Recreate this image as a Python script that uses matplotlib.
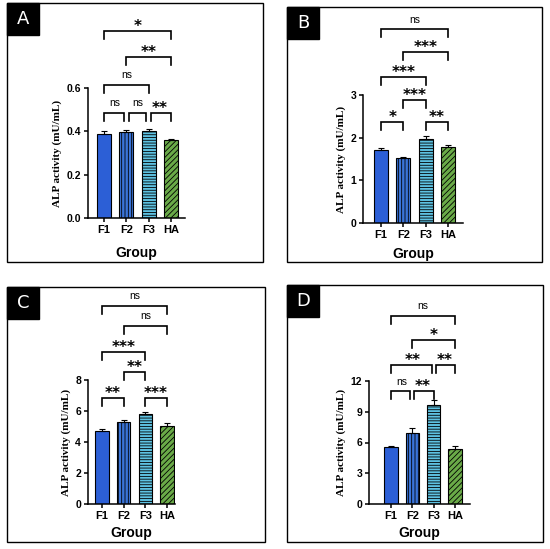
import numpy as np
import matplotlib
matplotlib.use('Agg')
import matplotlib.pyplot as plt
from matplotlib.patches import Rectangle

# ===========================================================
# data
# ===========================================================
groups = ['F1', 'F2', 'F3', 'HA']

a_mean = [0.390, 0.395, 0.400, 0.358]
a_err = [0.010, 0.010, 0.012, 0.008]
b_mean = [1.70, 1.53, 1.98, 1.79]
b_err = [0.06, 0.02, 0.07, 0.03]
c_mean = [4.72, 5.30, 5.82, 5.05]
c_err = [0.12, 0.12, 0.10, 0.20]
d_mean = [5.60, 6.90, 9.70, 5.40]
d_err = [0.05, 0.50, 0.45, 0.25]

# (group i, group j, bracket height, label)
a_comp = [(0, 1, 0.485, 'ns'), (1, 2, 0.485, 'ns'), (2, 3, 0.485, '**'),
          (0, 2, 0.614, 'ns'), (1, 3, 0.743, '**'), (0, 3, 0.863, '*')]
b_comp = [(0, 1, 2.37, '*'), (2, 3, 2.37, '**'), (1, 2, 2.88, '***'),
          (0, 2, 3.42, '***'), (1, 3, 4.00, '***'), (0, 3, 4.54, 'ns')]
c_comp = [(0, 1, 6.84, '**'), (2, 3, 6.84, '***'), (1, 2, 8.52, '**'),
          (0, 2, 9.80, '***'), (1, 3, 11.50, 'ns'), (0, 3, 12.77, 'ns')]
d_comp = [(0, 1, 11.0, 'ns'), (1, 2, 11.0, '**'), (0, 2, 13.56, '**'),
          (2, 3, 13.56, '**'), (1, 3, 16.0, '*'), (0, 3, 18.34, 'ns')]

a_ticks = [0.0, 0.2, 0.4, 0.6]
b_ticks = [0, 1, 2, 3]
c_ticks = [0, 2, 4, 6, 8]
d_ticks = [0, 3, 6, 9, 12]

# ===========================================================
# style
# ===========================================================
W, H = 550, 549
BAR_COLORS = ['#2C5FD6', '#3A74D8', '#5EC2E2', '#6AAA48']
HATCHES = [None, '|||||', '------', '//////']
SANS = 'Liberation Sans'
SERIF = 'Liberation Serif'
plt.rcParams['hatch.linewidth'] = 0.6
plt.rcParams['font.family'] = SANS

# panel layout in pixels: frame, axes (l, t, r, b), xlim
panels = [
    dict(letter='A', mean=a_mean, err=a_err, comp=a_comp, ticks=a_ticks, fmt='{:.1f}',
         frame=(7, 3, 263, 262), ax=(88, 88, 185, 218), xlim=(-0.72, 3.63), lpad=8),
    dict(letter='B', mean=b_mean, err=b_err, comp=b_comp, ticks=b_ticks, fmt='{:.0f}',
         frame=(287, 7, 542, 262), ax=(363, 95, 463, 223), xlim=(-0.81, 3.67), lpad=5),
    dict(letter='C', mean=c_mean, err=c_err, comp=c_comp, ticks=c_ticks, fmt='{:.0f}',
         frame=(7, 287, 265, 542), ax=(88, 380, 175, 504), xlim=(-0.65, 3.37), lpad=4),
    dict(letter='D', mean=d_mean, err=d_err, comp=d_comp, ticks=d_ticks, fmt='{:.0f}',
         frame=(287, 285, 543, 542), ax=(369, 381, 470, 504), xlim=(-1.03, 3.70), lpad=4),
]

fig = plt.figure(figsize=(W / 100, H / 100), dpi=100)
fig.patch.set_facecolor('white')


def px_rect(l, t, r, b):
    return [l / W, 1 - b / H, (r - l) / W, (b - t) / H]


for p in panels:
    # outer frame + letter box
    fl, ft, fr, fb = p['frame']
    fig.add_artist(Rectangle((fl / W, 1 - fb / H), (fr - fl) / W, (fb - ft) / H,
                             transform=fig.transFigure, fill=False,
                             edgecolor='black', linewidth=1.0))
    fig.add_artist(Rectangle((fl / W, 1 - (ft + 32) / H), 32 / W, 32 / H,
                             transform=fig.transFigure, facecolor='black',
                             edgecolor='black'))
    fig.text((fl + 16) / W, 1 - (ft + 16) / H, p['letter'], color='white',
             fontsize=13, ha='center', va='center', family='DejaVu Sans')

    ax = fig.add_axes(px_rect(*p['ax']))
    x = np.arange(len(groups))
    for i in range(len(groups)):
        ax.bar(x[i], p['mean'][i], width=0.62, color=BAR_COLORS[i],
               edgecolor='black', linewidth=0.8, hatch=HATCHES[i], zorder=2)
    ax.errorbar(x, p['mean'], yerr=[np.zeros(4), p['err']], fmt='none',
                ecolor='black', elinewidth=0.8, capsize=2.5, capthick=0.8, zorder=3)

    ymax = p['ticks'][-1]
    ax.set_ylim(0, ymax)
    ax.set_xlim(*p['xlim'])
    ax.set_yticks(p['ticks'])
    ax.set_yticklabels([p['fmt'].format(t) for t in p['ticks']],
                       fontsize=7.5, fontweight='bold')
    ax.set_xticks(x)
    ax.set_xticklabels(groups, fontsize=8, fontweight='bold')
    ax.tick_params(direction='out', length=3, width=1.1, pad=2)
    for s in ['top', 'right']:
        ax.spines[s].set_visible(False)
    for s in ['left', 'bottom']:
        ax.spines[s].set_linewidth(1.1)
    ax.set_xlabel('Group', fontsize=10, fontweight='bold', labelpad=p['lpad'])
    ax.set_ylabel('ALP activity (mU/mL)', fontsize=8, fontweight='bold',
                  family=SERIF, labelpad=3)

    # significance brackets
    ax_h = p['ax'][3] - p['ax'][1]
    drop = 8 / ax_h * ymax
    for (i, j, h, lab) in p['comp']:
        xl, xr = float(i), float(j)
        for (i2, j2, h2, _) in p['comp']:
            if h2 == h and j2 == i:
                xl += 0.1
            if h2 == h and i2 == j:
                xr -= 0.1
        ax.plot([xl, xl, xr, xr], [h - drop, h, h, h - drop], color='black',
                linewidth=1.2, clip_on=False, solid_joinstyle='miter')
        if lab == 'ns':
            ax.annotate(lab, ((i + j) / 2, h), xytext=(0, 7), textcoords='offset points',
                        ha='center', va='center', fontsize=7.5, annotation_clip=False)
        else:
            ax.annotate(lab, ((i + j) / 2, h), xytext=(0, 3.5), textcoords='offset points',
                        ha='center', va='center', fontsize=11, fontweight='bold',
                        family='DejaVu Sans', annotation_clip=False)

fig.savefig('out.png', dpi=100, facecolor='white')
